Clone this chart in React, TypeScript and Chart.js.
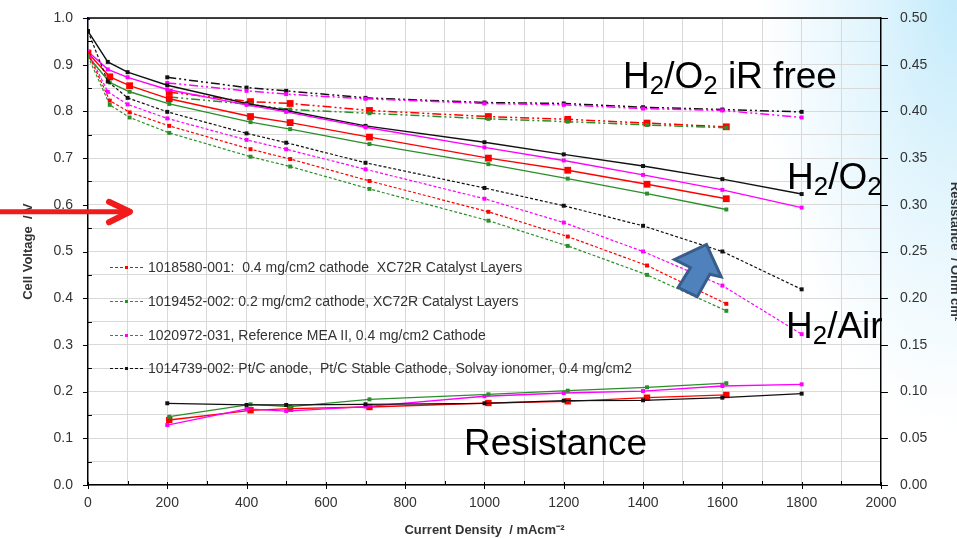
import React, { useEffect, useRef } from "react";
import { Chart, registerables } from "chart.js";
Chart.register(...registerables);

const FONT = "'Liberation Sans', Arial, Helvetica, sans-serif";
const RED = "#ff0000";
const GREEN = "#2a8f2a";
const MAGENTA = "#ff00ff";
const BLACK = "#111111";
const BLUE = "#0000ff";

// Current density (mA/cm2)
const currentBM = [0, 50, 100, 200, 400, 500, 700, 1000, 1200, 1400, 1600, 1800];
const currentRG = [0, 55, 105, 205, 410, 510, 710, 1010, 1210, 1410, 1610];
const currentBMir = [200, 400, 500, 700, 1000, 1200, 1400, 1600, 1800];
const currentRGir = [205, 410, 510, 710, 1010, 1210, 1410, 1610];

// H2/Air cell voltage (V)
const airRed = [0.925, 0.823, 0.798, 0.769, 0.719, 0.698, 0.651, 0.585, 0.532, 0.47, 0.388];
const airGreen = [0.918, 0.814, 0.787, 0.754, 0.703, 0.682, 0.634, 0.566, 0.512, 0.45, 0.373];
const airMagenta = [0.928, 0.842, 0.815, 0.785, 0.739, 0.719, 0.676, 0.613, 0.562, 0.5, 0.427, 0.323];
const airBlack = [0.972, 0.864, 0.829, 0.799, 0.753, 0.733, 0.69, 0.636, 0.598, 0.555, 0.5, 0.419];

// H2/O2 cell voltage (V)
const o2Red = [0.925, 0.874, 0.855, 0.827, 0.789, 0.776, 0.745, 0.7, 0.674, 0.644, 0.613];
const o2Green = [0.918, 0.862, 0.842, 0.816, 0.777, 0.762, 0.73, 0.687, 0.656, 0.624, 0.59];
const o2Magenta = [0.928, 0.89, 0.873, 0.847, 0.814, 0.799, 0.766, 0.723, 0.695, 0.664, 0.632, 0.594];
const o2Black = [0.972, 0.906, 0.884, 0.856, 0.817, 0.802, 0.769, 0.734, 0.708, 0.683, 0.655, 0.623];

// H2/O2 iR-free voltage (V)
const irRed = [0.841, 0.821, 0.817, 0.802, 0.789, 0.783, 0.775, 0.767];
const irGreen = [0.831, 0.815, 0.804, 0.796, 0.784, 0.778, 0.771, 0.765];
const irMagenta = [0.861, 0.844, 0.837, 0.827, 0.817, 0.814, 0.806, 0.802, 0.787];
const irBlack = [0.873, 0.851, 0.844, 0.829, 0.819, 0.817, 0.809, 0.804, 0.799];

// Resistance (Ohm cm2)
const resRed = [0.0696, 0.08, 0.0817, 0.0835, 0.0878, 0.0896, 0.0935, 0.0964];
const resGreen = [0.0731, 0.0864, 0.0839, 0.0917, 0.0971, 0.101, 0.1046, 0.109];
const resMagenta = [0.0642, 0.0814, 0.0792, 0.084, 0.095, 0.0985, 0.1006, 0.106, 0.1078];
const resBlack = [0.0875, 0.0857, 0.0857, 0.0864, 0.0875, 0.0903, 0.0907, 0.0935, 0.0978];

const ocvX = [0];
const ocvBlue = [1.0];

const legendLabels = [
  "1018580-001:  0.4 mg/cm2 cathode  XC72R Catalyst Layers",
  "1019452-002: 0.2 mg/cm2 cathode, XC72R Catalyst Layers",
  "1020972-031, Reference MEA II, 0.4 mg/cm2 Cathode",
  "1014739-002: Pt/C anode,  Pt/C Stable Cathode, Solvay ionomer, 0.4 mg/cm2",
];
const legendColors = [RED, GREEN, MAGENTA, BLACK];

// annotation anchors in data coordinates
const redArrowTip = [106, 0.585];
const blueArrowTip = [1560, 0.515];

const AIR_DASH = [3, 2];
const IR_DASH = [9, 3, 2, 3, 2, 3];

const pts = (xs: number[], ys: number[]) => ys.map((y, i) => ({ x: xs[i], y }));

function ds(label: string, xs: number[], ys: number[], color: string, dash: number[], width: number, pr: number, axis = "y") {
  return {
    label,
    data: pts(xs, ys),
    borderColor: color,
    backgroundColor: color,
    borderWidth: width,
    borderDash: dash,
    pointStyle: "rect",
    pointRadius: pr,
    pointHoverRadius: pr,
    pointBorderWidth: 0,
    yAxisID: axis,
    tension: 0,
    fill: false,
  };
}

const decorPlugin = {
  id: "decor",
  afterDraw(chart: any) {
    const { ctx, chartArea: ca, scales } = chart;
    const sx = scales.x;
    const sy = scales.y;
    const sy2 = scales.y2;
    ctx.save();
    // top frame line
    ctx.strokeStyle = "#000";
    ctx.lineWidth = 1.5;
    ctx.beginPath();
    ctx.moveTo(ca.left, ca.top);
    ctx.lineTo(ca.right, ca.top);
    ctx.stroke();
    // tick marks
    ctx.lineWidth = 1;
    ctx.beginPath();
    sx.ticks.forEach((t: any) => {
      const px = Math.round(sx.getPixelForValue(t.value)) + 0.5;
      if (Math.round(t.value) % 200 === 0) {
        ctx.moveTo(px, ca.bottom - 3);
        ctx.lineTo(px, ca.bottom + 4);
      } else {
        ctx.moveTo(px, ca.bottom - 4);
        ctx.lineTo(px, ca.bottom);
      }
    });
    sy.ticks.forEach((t: any) => {
      const py = Math.round(sy.getPixelForValue(t.value)) + 0.5;
      if (Math.round(t.value * 20) % 2 === 0) {
        ctx.moveTo(ca.left - 5, py);
        ctx.lineTo(ca.left, py);
      } else {
        ctx.moveTo(ca.left, py);
        ctx.lineTo(ca.left + 4, py);
      }
    });
    sy2.ticks.forEach((t: any) => {
      const py = Math.round(sy2.getPixelForValue(t.value)) + 0.5;
      ctx.moveTo(ca.right, py);
      ctx.lineTo(ca.right + 7, py);
    });
    ctx.stroke();

    // red arrow
    const rx = sx.getPixelForValue(redArrowTip[0]);
    const ry = sy.getPixelForValue(redArrowTip[1]);
    ctx.strokeStyle = "#f01c1c";
    ctx.lineWidth = 5;
    ctx.lineCap = "butt";
    ctx.beginPath();
    ctx.moveTo(0, ry);
    ctx.lineTo(rx - 4, ry);
    ctx.stroke();
    ctx.lineCap = "round";
    ctx.lineJoin = "round";
    ctx.lineWidth = 6;
    ctx.beginPath();
    ctx.moveTo(rx - 21, ry - 10);
    ctx.lineTo(rx, ry);
    ctx.lineTo(rx - 21, ry + 10.5);
    ctx.stroke();

    // blue block arrow
    const bx = sx.getPixelForValue(blueArrowTip[0]);
    const by = sy.getPixelForValue(blueArrowTip[1]);
    const shape = [
      [0, 0], [14.7, 32.4], [3.3, 29.7], [-9.3, 52.4], [-28.3, 43], [-16, 23], [-32, 15],
    ];
    ctx.beginPath();
    shape.forEach(([dx, dy], i) => {
      if (i === 0) ctx.moveTo(bx + dx, by + dy);
      else ctx.lineTo(bx + dx, by + dy);
    });
    ctx.closePath();
    ctx.fillStyle = "#4f81bd";
    ctx.fill();
    ctx.strokeStyle = "#385d8a";
    ctx.lineWidth = 3;
    ctx.lineJoin = "miter";
    ctx.stroke();
    ctx.restore();
  },
};

function Big({ left, top, children }: { left: number; top: number; children: any }) {
  return (
    <div
      style={{
        position: "absolute",
        left,
        top,
        fontFamily: FONT,
        fontSize: 37,
        lineHeight: "37px",
        color: "#000",
        whiteSpace: "pre",
        pointerEvents: "none",
      }}
    >
      {children}
    </div>
  );
}

const Sub = ({ children }: { children: any }) => (
  <span style={{ fontSize: "0.7em", position: "relative", top: "0.24em" }}>{children}</span>
);

export default function App() {
  const ref = useRef<HTMLCanvasElement | null>(null);

  useEffect(() => {
    if (!ref.current) return;
    const datasets: any[] = [
      ds("Res 1014739", currentBMir, resBlack, BLACK, [], 1.3, 2.8, "y2"),
      ds("Res 1019452", currentRGir, resGreen, GREEN, [], 1.3, 2.8, "y2"),
      ds("Res 1020972", currentBMir, resMagenta, MAGENTA, [], 1.3, 2.8, "y2"),
      ds("Res 1018580", currentRGir, resRed, RED, [], 1.3, 4.5, "y2"),
      ds("Air 1019452", currentRG, airGreen, GREEN, AIR_DASH, 1.2, 2.8),
      ds("Air 1018580", currentRG, airRed, RED, AIR_DASH, 1.2, 2.8),
      ds("Air 1020972", currentBM, airMagenta, MAGENTA, AIR_DASH, 1.2, 2.8),
      ds("Air 1014739", currentBM, airBlack, BLACK, AIR_DASH, 1.2, 2.8),
      ds("O2 1019452", currentRG, o2Green, GREEN, [], 1.4, 2.8),
      ds("O2 1018580", currentRG, o2Red, RED, [], 1.4, 4.8),
      ds("O2 1020972", currentBM, o2Magenta, MAGENTA, [], 1.4, 2.8),
      ds("O2 1014739", currentBM, o2Black, BLACK, [], 1.4, 2.8),
      ds("iR 1019452", currentRGir, irGreen, GREEN, IR_DASH, 1.5, 2.8),
      ds("iR 1018580", currentRGir, irRed, RED, IR_DASH, 1.5, 4.8),
      ds("iR 1020972", currentBMir, irMagenta, MAGENTA, IR_DASH, 1.5, 2.8),
      ds("iR 1014739", currentBMir, irBlack, BLACK, IR_DASH, 1.5, 2.8),
      ds("OCV", ocvX, ocvBlue, BLUE, [], 1, 2.8),
    ];
    const tickFont = { family: FONT, size: 14 };
    const titleFont = { family: FONT, size: 13, weight: "bold" as const };
    const chart = new Chart(ref.current, {
      type: "line",
      data: { datasets },
      plugins: [decorPlugin],
      options: {
        animation: false,
        responsive: true,
        maintainAspectRatio: false,
        layout: { padding: { left: 0, right: 0, top: 18, bottom: 0 } },
        plugins: { legend: { display: false }, tooltip: { enabled: false } },
        scales: {
          x: {
            type: "linear",
            min: 0,
            max: 2000,
            ticks: {
              stepSize: 100,
              autoSkip: false,
              maxRotation: 0,
              padding: 10,
              color: "#333",
              font: tickFont,
              callback: (v: any) => (Math.round(v) % 200 === 0 ? String(Math.round(v)) : ""),
            },
            grid: { color: "#d9d9d9", drawTicks: false, lineWidth: 1 },
            border: { color: "#000", width: 1.5 },
            title: {
              display: true,
              text: "Current Density  / mAcm\u207B\u00B2",
              color: "#333",
              font: titleFont,
              padding: { top: 0.6, bottom: 0 },
            },
          },
          y: {
            position: "left",
            min: 0,
            max: 1,
            ticks: {
              stepSize: 0.05,
              autoSkip: false,
              padding: 9,
              color: "#333",
              font: tickFont,
              callback: (v: any) => (Math.round(v * 20) % 2 === 0 ? Number(v).toFixed(1) : ""),
            },
            grid: { color: "#d9d9d9", drawTicks: true, tickLength: 6, tickColor: "rgba(0,0,0,0)", lineWidth: 1 },
            border: { color: "#000", width: 1.5 },
            title: {
              display: true,
              text: "Cell Voltage  / V",
              color: "#333",
              font: titleFont,
              padding: { top: 20.2, bottom: 8.7 },
            },
          },
          y2: {
            position: "right",
            min: 0,
            max: 0.5,
            ticks: {
              stepSize: 0.05,
              autoSkip: false,
              padding: 9,
              color: "#333",
              font: tickFont,
              callback: (v: any) => Number(v).toFixed(2),
            },
            grid: { drawOnChartArea: false, drawTicks: true, tickLength: 10, tickColor: "rgba(0,0,0,0)" },
            border: { color: "#000", width: 1.5 },
            title: {
              display: true,
              text: "Resistance  / Ohm cm\u00B2",
              color: "#333",
              font: titleFont,
              padding: { top: 7.2, bottom: 11 },
            },
          },
        },
      } as any,
    });
    return () => chart.destroy();
  }, []);

  return (
    <div
      style={{
        position: "absolute",
        left: 0,
        top: 0,
        width: 957,
        height: 538,
        overflow: "hidden",
        background:
          "radial-gradient(ellipse 200px 430px at 100% 0%, #c4ebfb 0%, #e2f5fd 45%, #ffffff 100%)",
      }}
    >
      <div style={{ position: "absolute", left: 0, top: 0, width: 970, height: 538 }}>
        <canvas ref={ref} />
      </div>
      <Big left={623} top={57}>
        H<Sub>2</Sub>/O<Sub>2</Sub> iR free
      </Big>
      <Big left={787} top={158}>
        H<Sub>2</Sub>/O<Sub>2</Sub>
      </Big>
      <Big left={786} top={307}>
        H<Sub>2</Sub>/Air
      </Big>
      <Big left={464} top={424}>
        Resistance
      </Big>
      {legendLabels.map((lab, i) => (
        <div
          key={i}
          style={{
            position: "absolute",
            left: 110,
            top: 258.9 + i * 33.85,
            height: 16,
            display: "flex",
            alignItems: "center",
            fontFamily: FONT,
            fontSize: 14,
            lineHeight: "16px",
            color: "#333",
            whiteSpace: "pre",
          }}
        >
          <svg width={34} height={16} style={{ display: "block" }}>
            <line x1={0} y1={8.5} x2={33} y2={8.5} stroke={legendColors[i]} strokeWidth={1} strokeDasharray="3 2" />
            <rect x={15} y={7} width={3} height={3} fill={legendColors[i]} />
          </svg>
          <span style={{ marginLeft: 4 }}>{lab}</span>
        </div>
      ))}
    </div>
  );
}
